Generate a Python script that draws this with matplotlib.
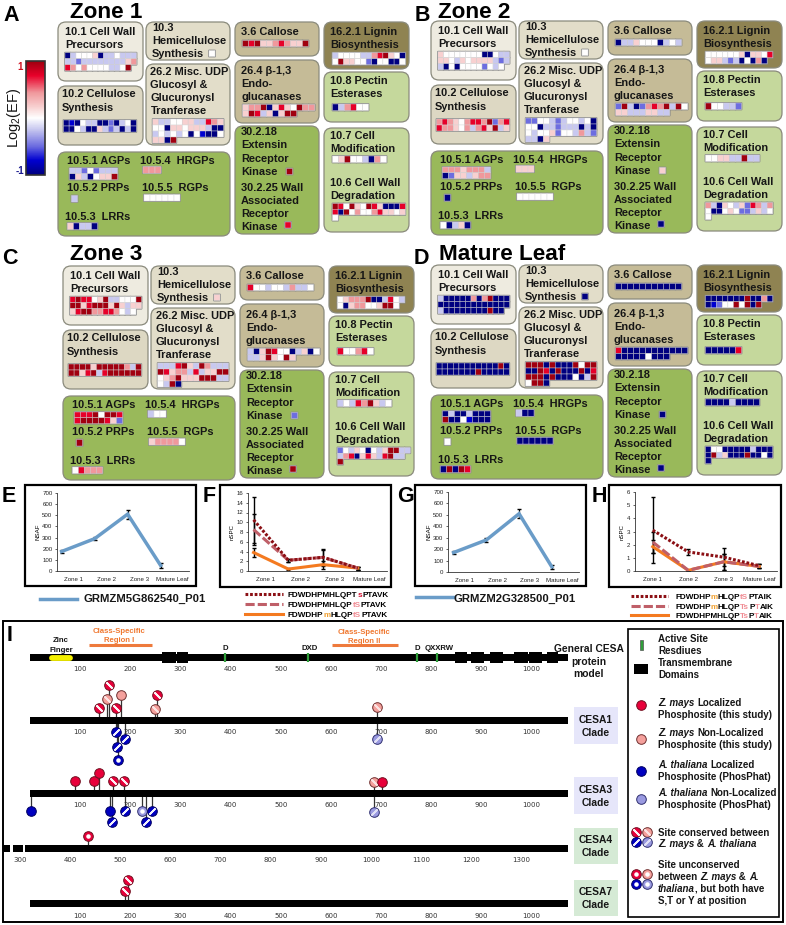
import numpy as np
import matplotlib
matplotlib.use("Agg")
import matplotlib.pyplot as plt
from matplotlib.patches import FancyBboxPatch, Rectangle
from matplotlib.colors import LinearSegmentedColormap, Normalize
from matplotlib.font_manager import FontProperties

plt.rcParams['font.family'] = ['Liberation Sans', 'DejaVu Sans']
plt.rcParams['mathtext.default'] = 'regular'

# ---------- DATA ----------
# heat-map level codes -> log2(EF)
LEVELS = {'N': -1.0, 'B': -0.75, 'M': -0.5, 'L': -0.2, 'w': 0.0, 'p': 0.2, 's': 0.45, 'R': 0.75, 'D': 1.0}

ZONE1 = {
 '10.1': ["NLwwwpNLLwLLL", "LLMLLLLLLLLps", "RswswwwwLLwD"],
 '10.2': ["NBNwLLNNMNLwN", "NNwLNNpLMLNLN"],
 '10.3': ["w"],
 '26.2': ["pLLwwppLLRsp", "wwNppwpppLNN", "LwLwLwNwBNNw", "ppND"],
 '3.6': ["DRDppsRsppD"],
 '26.4': ["pssDNpRpwDss", "pDRLpNpDD"],
 '16.2.1': ["LwwwwLLsRDpwN", "wDppwwMNwwNNw"],
 '10.8': ["NLsRww"],
 '10.7': ["wpDwwLNsw"],
 '10.6': ["DRwDpwDRpNNNR", "RNDwswwsRppwp", "w"],
 '10.5.1': ["LLMwMLLL", "NpLNwppD"],
 '10.5.4': ["sss"], '10.5.2': ["L"], '10.5.5': ["wwwwww"], '10.5.3': ["pNLLN"],
 '30.2.18': ["D"], '30.2.25': ["R"],
}
ZONE2 = {
 '10.1': ["pwwwwwwwNNwLL", "ppwLpwppppLML", "LNwNwwwwMwLw"],
 '10.2': ["sRspwsRRsDMsR", "RsspwsLsRpDLp"],
 '10.3': ["w"],
 '26.2': ["MMwwLMLwwLwN", "wwNLLMLLLNLN", "wLwwpMwwLsLM", "LLNp"],
 '3.6': ["NLLpwwwNLwL"],
 '26.4': ["MDLNMsRsDLDw", "ppLLLppLL"],
 '16.2.1': ["wwwwwwpNppwR", "wppLMLNwNsN"],
 '10.8': ["DwwLLM"],
 '10.7': ["wwppLLDLL"],
 '10.6': ["sLNpwLpMRsLs", "wNNwpwMMLpLw", "w"],
 '10.5.1': ["ssspsssL", "NMppLpss"],
 '10.5.4': ["ppp"], '10.5.2': ["N"], '10.5.5': ["wwwwww"], '10.5.3': ["wNLpN"],
 '30.2.18': ["p"], '30.2.25': ["N"],
}
ZONE3 = {
 '10.1': ["RDRRwpDLLwwwD", "DDpRDDDpDpLpp", "pRDDssRRswLw"],
 '10.2': ["DDDDpDDDDDsLD", "DDpRDLRDDDDDD"],
 '10.3': ["p"],
 '26.2': ["LLLRDpLDsLLL", "DRpssLRLppDD", "wpsDpppDDDLL", "wLDN"],
 '3.6': ["RwwLwwLsLLw"],
 '26.4': ["LNpDRwwNLpNw", "LLpDpwDp"],
 '16.2.1': ["wpsssDNNLRwL", "wNpsswwpDDw"],
 '10.8': ["RwwsRw"],
 '10.7': ["LwLRsDpLw"],
 '10.6': ["MwLpwNwLpDDLL", "LsRNpRpLRDLL", "D"],
 '10.5.1': ["RRRDwDDR", "RDDDDRpM"],
 '10.5.4': ["Lww"], '10.5.2': ["D"], '10.5.5': ["pssssw"], '10.5.3': ["wRsss"],
 '30.2.18': ["M"], '30.2.25': ["D"],
}
MATURE = {
 '10.1': ["LNNNNNsNsDNNN", "NNNNNNNNNNNNN", "LNNNNNNNNDNN"],
 '10.2': ["NNNNNNNNNNNDN", "NNNNNNNDNNNNN"],
 '10.3': ["N"],
 '26.2': ["DDDNDNNNDwDD", "NNDRNDNNNDNR", "DDDNDNNNwNLD", "wDDN"],
 '3.6': ["NNNNNNNNNNN"],
 '26.4': ["RNNNNNNNNNNN", "NNNNNwNNN"],
 '16.2.1': ["NNNNNNNDNNsN", "NBMwwDwDND"],
 '10.8': ["NNNNNR"],
 '10.7': ["NNNNLNNNN"],
 '10.6': ["NwwNNNNNLNNN", "NDLpNNNDNNwN", "N"],
 '10.5.1': ["NLNNLNNN", "DNNwBNNN"],
 '10.5.4': ["LNN"], '10.5.2': ["w"], '10.5.5': ["NNNNNN"], '10.5.3': ["NDNDR"],
 '30.2.18': ["N"], '30.2.25': ["N"],
}

STAGES = ["Zone 1", "Zone 2", "Zone 3", "Mature Leaf"]
NSAF_E = [175, 290, 510, 50]
NSAF_E_ERR = [15, 15, 40, 20]
NSAF_G = [170, 280, 510, 45]
NSAF_G_ERR = [15, 15, 40, 20]

F_PEP1 = [10.5, 2.2, 2.8, 0.6]; F_PEP1_ERR = [4.7, 0.3, 1.8, 0.3]
F_PEP2 = [8.5, 2.2, 2.8, 0.6];  F_PEP2_ERR = [3.2, 0.3, 1.6, 0.3]
F_PEP3 = [3.8, 0.4, 1.3, 0.6];  F_PEP3_ERR = [1.0, 0.2, 0.8, 0.3]
H_PEP1 = [3.1, 1.45, 1.05, 0.4];  H_PEP1_ERR = [2.5, 0.2, 0.7, 0.15]
H_PEP2 = [2.2, 0.05, 0.7, 0.35];  H_PEP2_ERR = [0.8, 0.03, 0.6, 0.15]
H_PEP3 = [1.85, 0.05, 0.7, 0.35]; H_PEP3_ERR = [0.5, 0.03, 0.6, 0.15]

TM_DOMAINS = [(264, 291), (293, 315), (847, 872), (880, 906), (917, 943), (965, 993), (996, 1022), (1032, 1053)]
ACTIVE_SITES = [388, 555, 772, 811]
ZINC_FINGER = (39, 84)
CSR_REGIONS = [(117, 243), (603, 734)]
# phosphosites: residue, kind, stem length (+ above the protein, - below)
# kind: R/P/B/L colour, with S = conserved (stripe), O = unconserved (dot)
CESA1_SITES = [(138, 'RS', 12.7), (153, 'PS', 21.7), (158, 'RS', 35.7), (171, 'RS', 12.7), (182, 'P', 25.7),
               (250, 'PS', 11.7), (253, 'RS', 25.7), (692, 'PS', 13.7),
               (171, 'BS', -11.3), (190, 'BS', -18.3), (173, 'BS', -25.8), (176, 'BO', -39.3), (692, 'LS', -18.3)]
CESA3_SITES = [(89, 'R', 12), (128, 'R', 12), (138, 'R', 20), (165, 'RS', 12), (188, 'RS', 12),
               (686, 'PS', 11), (703, 'R', 11),
               (1, 'B', -18), (160, 'B', -18), (164, 'BS', -28.7), (189, 'BS', -18), (223, 'LO', -18),
               (231, 'BS', -29), (244, 'BS', -18), (686, 'LS', -19)]
CESA4_SITES = [(435, 'RO', 13)]
CESA7_SITES = [(190, 'RS', 13.3), (195, 'RS', 24)]
CESA4_SEGMENTS = [(265, 280), (285, 305), (310, 1393)]
TICKS_1K = list(range(100, 1001, 100))
TICKS_4 = list(range(300, 1301, 100))

# ---------- SETUP ----------
W, H = 786, 925
fig = plt.figure(figsize=(W/100, H/100), dpi=100)
ax = fig.add_axes([0, 0, 1, 1])
ax.set_xlim(0, W); ax.set_ylim(H, 0); ax.axis('off')
renderer = fig.canvas.get_renderer()

cmap = LinearSegmentedColormap.from_list('ef', [
    (0.0, '#000080'), (0.125, '#0000d0'), (0.25, '#6c6ce0'), (0.4, '#c8c8f0'), (0.5, '#ffffff'),
    (0.6, '#f8d0d0'), (0.725, '#f0989c'), (0.875, '#e8002a'), (1.0, '#a00010')])
norm = Normalize(-1, 1)

INK = '#161616'
def T(x, y, s, size=7.9, weight='bold', color=INK, ha='left', style='normal', **kw):
    px = size * 100 / 72
    return ax.text(x, y + 0.36 * px, s, fontsize=size, fontweight=weight, color=color, ha=ha,
                   va='baseline', fontstyle=style, **kw)

def advance(s, size, weight, style):
    fp = FontProperties(family='Liberation Sans', size=size, weight=weight, style=style)
    return (renderer.get_text_width_height_descent(s + '|', fp, False)[0]
            - renderer.get_text_width_height_descent('|', fp, False)[0])

def rich(x, y, parts, size=7.0, weight='bold'):
    for s, style, color in parts:
        T(x, y, s, size=size, weight=weight, color=color, style=style)
        x += advance(s, size, weight, style)

# box: x0, y0, x1, y1, colour
BOXES = [
 (58, 22, 143, 81, '#eeebe0'), (146, 22, 230, 60, '#e2ddc9'), (58, 86, 143, 145, '#ddd8c3'),
 (146, 64, 230, 145, '#e2ddc9'), (235, 22, 319, 56, '#c5bb97'), (235, 60, 319, 123, '#c5bb97'),
 (235, 126, 319, 234, '#99b95a'), (58, 152, 230, 236, '#99b95a'), (324, 22, 409, 69, '#8f8352'),
 (324, 72, 409, 122, '#c5d89c'), (324, 128, 409, 232, '#c5d89c'),
]
LABELS = [
 (65, 30.7, "10.1 Cell Wall"), (65, 44, "Precursors"),
 (152, 27, "10.3"), (152, 40.5, "Hemicellulose"), (152, 53, "Synthesis"),
 (62, 93.5, "10.2 Cellulose"), (62, 107, "Synthesis"),
 (150.5, 71, "26.2 Misc. UDP"), (150.5, 84, "Glucosyl &"), (150.5, 97, "Glucuronysl"), (150.5, 110.5, "Tranferase"),
 (241, 31, "3.6 Callose"), (241, 70, "26.4 \u03b2-1,3"), (241, 83, "Endo-"), (241, 96, "glucanases"),
 (241, 131.5, "30.2.18"), (241, 144.5, "Extensin"), (241, 158, "Receptor"), (241, 171, "Kinase"),
 (241, 187, "30.2.25 Wall"), (241, 200, "Associated"), (241, 213, "Receptor"), (241, 226, "Kinase"),
 (330, 30.7, "16.2.1 Lignin"), (330, 44, "Biosynthesis"), (330, 80.5, "10.8 Pectin"), (330, 93.5, "Esterases"),
 (330, 135, "10.7 Cell"), (330, 148, "Modification"), (330, 182, "10.6 Cell Wall"), (330, 195, "Degradation"),
 (67, 160, "10.5.1 AGPs"), (140, 160, "10.5.4  HRGPs"), (67, 187.5, "10.5.2 PRPs"),
 (142, 187.5, "10.5.5  RGPs"), (65, 216, "10.5.3  LRRs"),
]
# heat-map anchor: x, y, pitch x, pitch y
HEAT = {
 '10.1': (65, 52.7, 5.5, 6), '10.2': (63.5, 120, 5.6, 6), '10.3': (208.5, 50, 6, 6),
 '26.2': (152.7, 119, 5.9, 6), '3.6': (242.5, 40.5, 6, 6), '26.4': (242.7, 104.5, 6, 6),
 '16.2.1': (332.5, 52.7, 5.6, 6), '10.8': (332.5, 104, 6, 6.5), '10.7': (332.5, 156, 6, 6.5),
 '10.6': (332.5, 203.5, 5.6, 5.7), '10.5.1': (69.5, 168, 6, 5.8), '10.5.4': (143, 166.7, 6, 6.5),
 '10.5.2': (71, 195, 6, 6.5), '10.5.5': (144, 194.5, 6, 6.5), '10.5.3': (67.5, 223, 6, 6.5),
 '30.2.18': (286, 168, 6, 6), '30.2.25': (284.5, 221.5, 6, 6),
}

def heat_cells(rows):
    ncol = max(len(r) for r in rows)
    a = np.full((len(rows), ncol), np.nan)
    for i, r in enumerate(rows):
        for j, ch in enumerate(r):
            a[i, j] = LEVELS[ch]
    return np.ma.masked_invalid(a)

GRAYMAP = LinearSegmentedColormap.from_list('g', ['#8c8c8c', '#8c8c8c'])

def zone_panel(cells, dx, dy, title, tx, ty, letter, lx, ly):
    for x0, y0, x1, y1, c in BOXES:
        ax.add_patch(FancyBboxPatch((x0+dx, y0+dy), x1-x0, y1-y0, boxstyle="round,pad=0,rounding_size=8",
                                    fc=c, ec='#8a8a7c', lw=0.9, zorder=1))
    for x, y, s in LABELS:
        T(x+dx, y+dy, s, zorder=3)
    for k, rows in cells.items():
        x, y, px, py = HEAT[k]
        a = heat_cells(rows)
        xe = x + dx + px*np.arange(a.shape[1]+1)
        ye = y + dy + py*np.arange(a.shape[0]+1)
        ax.pcolor(xe, ye, np.ma.masked_where(np.ma.getmaskarray(a), np.zeros(a.shape)), cmap=GRAYMAP,
                  edgecolors='#8c8c8c', linewidth=1.3, zorder=2)
        ax.pcolor(xe, ye, a, cmap=cmap, norm=norm, edgecolors='#d8d8d8', linewidth=0.3, zorder=2.5)
    T(lx, ly, letter, size=15.5, color='black')
    T(tx, ty, title, size=16.2, color='black')

zone_panel(ZONE1, 0, 0, "Zone 1", 70, 10, "A", 3, 13)
zone_panel(ZONE2, 373, -1, "Zone 2", 438, 10, "B", 415, 13)
zone_panel(ZONE3, 5, 244, "Zone 3", 70, 252, "C", 2, 256)
zone_panel(MATURE, 373, 243, "Mature Leaf", 439, 252, "D", 414, 256)

# colour bar
grad = np.linspace(1, -1, 200).reshape(-1, 1)
ax.imshow(grad, extent=(26, 45, 175, 61), cmap=cmap, norm=norm, aspect='auto', zorder=2)
ax.set_xlim(0, W); ax.set_ylim(H, 0)
ax.add_patch(Rectangle((26, 61), 19, 114, fc='none', ec='#333333', lw=1.2, zorder=3))
T(20.5, 67, "1", size=7, color='#d01020', ha='center')
T(20, 171, "-1", size=7, color='#1a1a90', ha='center')
ax.text(14, 118, r"Log$_{2}$(EF)", rotation=90, fontsize=10.5, ha='center', va='center', color=INK)

# ---------- line charts ----------
def chart_axes(x0, x1, y0, y1):
    a = fig.add_axes([x0/W, 1-y1/H, (x1-x0)/W, (y1-y0)/H])
    a.set_facecolor('none')
    for s in ('top', 'right'):
        a.spines[s].set_visible(False)
    for s in ('left', 'bottom'):
        a.spines[s].set_linewidth(0.6); a.spines[s].set_color('#333333')
    a.tick_params(length=1.8, width=0.5, labelsize=4.4, pad=1.5, colors='#222222')
    a.set_xlim(0, 4)
    a.set_xticks([0.5, 1.5, 2.5, 3.5]); a.set_xticklabels(STAGES, fontsize=4.4)
    a.tick_params(axis='x', pad=4.5, length=0)
    return a

BLUE = '#6a9cc8'; DRED = '#8b0f14'; PINK = '#bf5f68'; ORNG = '#f47a20'
for (x0, x1, y0, y1), xs, vals, err, (bx0, bx1) in [
    ((57, 189, 493, 571), 0.14, NSAF_E, NSAF_E_ERR, (25, 196)),
    ((448, 579, 492, 572), 0.17, NSAF_G, NSAF_G_ERR, (415, 586))]:
    ax.add_patch(Rectangle((bx0, 485), bx1-bx0, 101, fc='none', ec='black', lw=1.6))
    a = chart_axes(x0, x1, y0, y1)
    xp = np.arange(4) + xs
    a.errorbar(xp, vals, yerr=err, fmt='none', ecolor='black', elinewidth=0.9, capsize=1.6, capthick=1)
    a.plot(xp, vals, color=BLUE, lw=2.5, solid_joinstyle='miter')
    a.set_ylim(0, 700); a.set_yticks(range(0, 701, 100))
    a.set_ylabel("NSAF", fontsize=4.4, labelpad=1.5)

STYLES = [(DRED, (0, (0.9, 0.6)), 2.2), (PINK, (0, (3, 1)), 2.2), (ORNG, '-', 2.2)]
for (x0, x1, y0, y1), xs, series, ymax, step, (bx0, bx1) in [
    ((248, 387, 493, 571), 0.16, [(F_PEP1, F_PEP1_ERR), (F_PEP2, F_PEP2_ERR), (F_PEP3, F_PEP3_ERR)], 16, 2, (220, 391)),
    ((635, 777, 492, 571), 0.5, [(H_PEP1, H_PEP1_ERR), (H_PEP2, H_PEP2_ERR), (H_PEP3, H_PEP3_ERR)], 6, 1, (609, 781))]:
    ax.add_patch(Rectangle((bx0, 484.5), bx1-bx0, 102, fc='none', ec='black', lw=1.6))
    a = chart_axes(x0, x1, y0, y1)
    xp = np.arange(4) + xs
    for (v, e) in series:
        a.errorbar(xp, v, yerr=e, fmt='none', ecolor='black', elinewidth=1.0, capsize=1.6, capthick=1)
    for (v, e), (c, ls, lw) in zip(series[::-1], STYLES[::-1]):
        a.plot(xp, v, color=c, ls=ls, lw=lw, dash_capstyle='butt')
    a.set_ylim(0, ymax); a.set_yticks(range(0, ymax+1, step))
    a.set_ylabel("nSPC", fontsize=4.4, labelpad=1.5)

# chart legends
ax.plot([40, 77], [598.5, 598.5], color=BLUE, lw=2.5)
T(83, 598, "GRMZM5G862540_P01", size=8.1)
ax.plot([416, 454], [597, 597], color=BLUE, lw=2.5)
T(454, 597.5, "GRMZM2G328500_P01", size=8.1)
K = 'black'; LP = '#f08c94'; OR = '#f0a030'; RD = '#d01030'
PEP_SIZE = 5.85
N = 'normal'
for (lx0, lx1, tx, ys) in [(245, 283, 288, (594, 604, 614)), (631, 668, 675, (596, 606, 615))]:
    for y, (c, ls, lw) in zip(ys, STYLES):
        ax.plot([lx0, lx1], [y, y], color=c, ls=ls, lw=lw, dash_capstyle='butt')
rich(288, 594, [("FDWDHPMHLQPT", N, K), ("s", N, RD), ("PTAVK", N, K)], size=PEP_SIZE)
rich(288, 604, [("FDWDHPMHLQP", N, K), ("tS", N, LP), ("PTAVK", N, K)], size=PEP_SIZE)
rich(288, 614, [("FDWDHP", N, K), ("m", N, OR), ("HLQP", N, K), ("tS", N, LP), ("PTAVK", N, K)], size=PEP_SIZE)
rich(675, 596, [("FDWDHP", N, K), ("m", N, OR), ("HLQP", N, K), ("tS", N, LP), ("PTAIK", N, K)], size=PEP_SIZE)
rich(675, 606, [("FDWDHP", N, K), ("m", N, OR), ("HLQP", N, K), ("Ts", N, LP), ("P", N, K), ("T", N, LP), ("AIK", N, K)], size=PEP_SIZE)
rich(675, 615, [("FDWDHPMHLQP", N, K), ("Ts", N, LP), ("P", N, K), ("T", N, LP), ("AIK", N, K)], size=PEP_SIZE)

for s, x, y in [("E", 2, 494), ("F", 203, 494), ("G", 397, 494), ("H", 592, 494), ("I", 7, 633)]:
    T(x, y, s, size=15.5, color='black')

# ---------- panel I ----------
ax.add_patch(Rectangle((3, 621), 780, 301, fc='none', ec='black', lw=1.4))
ax.add_patch(Rectangle((628, 629), 151, 288, fc='none', ec='black', lw=1.2))

COLS = {'R': '#e8003a', 'P': '#f4a09c', 'B': '#0000c0', 'L': '#9a9ae0'}
EDGE = {'R': '#701020', 'P': '#703030', 'B': '#000060', 'L': '#303070'}

def head(a, x, y, kind):
    c = kind[0]
    a.scatter([x], [y], s=48, c=COLS[c], edgecolors=EDGE[c], linewidths=0.7, zorder=5, clip_on=False)
    if kind[1:] == 'S':
        ang = 45 if c in 'RP' else -45
        a.scatter([x], [y], s=24, marker=(2, 2, ang), c='white', linewidths=1.3, zorder=6, clip_on=False,
                  alpha=0.95 if c in 'RB' else 0.7)
    if kind[1:] == 'O':
        a.scatter([x], [y], s=5, c='white', zorder=6, clip_on=False)

def track(ymid, x0, x1, r0, r1, ticks, sites=(), segments=None):
    a = fig.add_axes([x0/W, 1-(ymid+50)/H, (x1-x0)/W, 100/H])
    a.set_facecolor('none')
    a.set_xlim(r0, r1); a.set_ylim(-50, 50)
    for s in a.spines.values():
        s.set_visible(False)
    a.set_yticks([])
    a.spines['bottom'].set_position(('data', 0))
    a.set_xticks(ticks)
    a.tick_params(axis='x', length=0, labelsize=5.0, pad=6.2, colors='#333333')
    for t in a.get_xticklabels():
        t.set_fontfamily('DejaVu Sans')
    segs = segments or [(r0, r1)]
    a.barh([0]*len(segs), [s[1]-s[0] for s in segs], left=[s[0] for s in segs], height=7, color='black', zorder=2)
    for r, kind, stem in sites:
        a.vlines(r, 0, stem, color='#333333', lw=0.9, zorder=1)
    for r, kind, stem in sites:
        head(a, r, stem, kind)
    return a

g = track(657.7, 30, 568, 0, 1073, TICKS_1K)
g.barh([0]*len(TM_DOMAINS), [b-a_ for a_, b in TM_DOMAINS], left=[a_ for a_, b in TM_DOMAINS], height=11, color='black', zorder=3)
g.plot([ZINC_FINGER[0]+4, ZINC_FINGER[1]-4], [0, 0], color='#f4f000', lw=4.2, solid_capstyle='round', zorder=4)
g.vlines(ACTIVE_SITES, -4.5, 4.5, color='#2f9e3a', lw=1.6, zorder=4)
g.hlines([12.7]*2, [r[0] for r in CSR_REGIONS], [r[1] for r in CSR_REGIONS], color='#ee7a3c', lw=2.2)

track(720.7, 30, 568, 0, 1073, TICKS_1K, CESA1_SITES)
track(793, 30, 568, 0, 1073, TICKS_1K, CESA3_SITES)
track(848.7, 2.5, 568, 265, 1393, TICKS_4, CESA4_SITES, CESA4_SEGMENTS)
track(904, 30, 568, 0, 1073, TICKS_1K, CESA7_SITES)

OC = '#f07830'
T(61, 639, "Zinc", size=5.6, ha='center'); T(61, 649, "Finger", size=5.6, ha='center')
T(119, 630, "Class-Specific", size=5.6, ha='center', color=OC); T(119, 639, "Region I", size=5.6, ha='center', color=OC)
T(364, 631, "Class-Specific", size=5.6, ha='center', color=OC); T(364, 640, "Region II", size=5.6, ha='center', color=OC)
for s, x in [("D", 225), ("DXD", 310), ("D", 417), ("QXXRW", 439)]:
    T(x, 647.5, s, size=5.6, ha='center')
for s, y in [("General CESA", 648), ("protein", 661), ("model", 673)]:
    T(588.5, y, s, size=7.4, ha='center')

for name, y0, y1, c in [("CESA1", 707, 744, '#e6e6fa'), ("CESA3", 777, 814, '#e6e6fa'),
                        ("CESA4", 828, 864, '#d5ead5'), ("CESA7", 880, 916, '#d5ead5')]:
    ax.add_patch(Rectangle((574, y0), 44, y1-y0, fc=c, ec='none'))
    T(596, (y0+y1)/2-6.5, name, size=7.4, ha='center')
    T(596, (y0+y1)/2+6.5, "Clade", size=7.4, ha='center')

# legend of panel I
LS = 7.0
T(658, 638, "Active Site", size=LS); T(658, 650, "Resdiues", size=LS)
T(658, 663, "Transmembrane", size=LS); T(658, 675, "Domains", size=LS)
ax.add_patch(Rectangle((639.5, 640), 3, 10, fc='#2f9e3a', ec='#555555', lw=0.5))
ax.add_patch(Rectangle((634, 664), 14, 10, fc='black', ec='none'))
rich(658, 703, [("Z. mays ", 'italic', INK), ("Localized", 'normal', INK)], size=LS)
T(658, 714.5, "Phosphosite (this study)", size=LS)
rich(658, 732, [("Z. mays ", 'italic', INK), ("Non-Localized", 'normal', INK)], size=LS)
T(658, 744, "Phosphosite (this study)", size=LS)
rich(658, 764, [("A. thaliana ", 'italic', INK), ("Localized", 'normal', INK)], size=LS)
T(658, 776, "Phosphosite (PhosPhat)", size=LS)
rich(658, 793, [("A. thaliana ", 'italic', INK), ("Non-Localized", 'normal', INK)], size=LS)
T(658, 805, "Phosphosite (PhosPhat)", size=LS)
T(658, 832, "Site conserved between", size=LS)
rich(658, 843.5, [("Z. mays", 'italic', INK), (" & ", 'normal', INK), ("A. thaliana", 'italic', INK)], size=LS)
T(658, 864, "Site unconserved", size=LS)
rich(658, 876, [("between ", 'normal', INK), ("Z. mays", 'italic', INK), (" & ", 'normal', INK), ("A.", 'italic', INK)], size=LS)
rich(658, 888, [("thaliana", 'italic', INK), (", but both have", 'normal', INK)], size=LS)
T(658, 900, "S,T or Y at position", size=LS)
for k, y in [('R', 705), ('P', 739), ('B', 771), ('L', 799)]:
    head(ax, 641, y, k)
for suffix, y0, y1 in [('S', 832, 842), ('O', 874, 884)]:
    head(ax, 636, y0, 'R'+suffix); head(ax, 647, y0, 'P'+suffix)
    head(ax, 636, y1, 'B'+suffix); head(ax, 647, y1, 'L'+suffix)

fig.savefig('out.png', dpi=100, facecolor='white')
